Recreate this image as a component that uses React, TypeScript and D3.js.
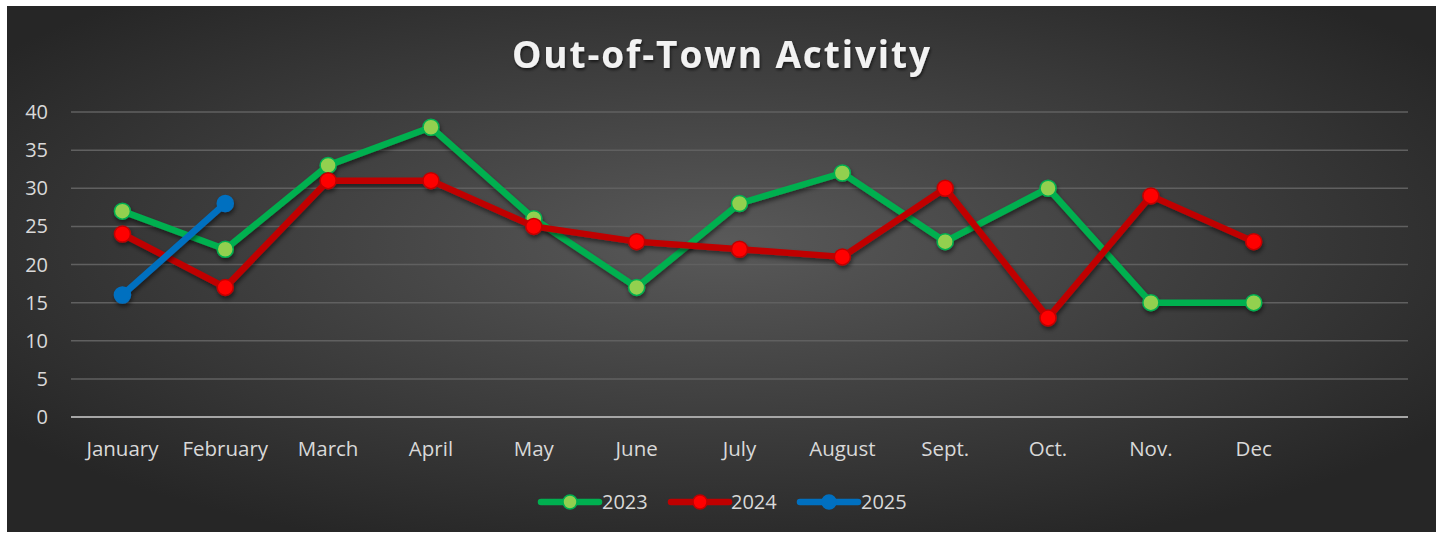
import React from "react";
import * as d3 from "d3";

const months = ["January", "February", "March", "April", "May", "June", "July", "August", "Sept.", "Oct.", "Nov.", "Dec", ""];
const s2023 = [27, 22, 33, 38, 26, 17, 28, 32, 23, 30, 15, 15];
const s2024 = [24, 17, 31, 31, 25, 23, 22, 21, 30, 13, 29, 23];
const s2025 = [16, 28];
const yTicks = [0, 5, 10, 15, 20, 25, 30, 35, 40];

const series = [
  { name: "2023", values: s2023, line: "#00b050", fill: "#92d050", stroke: "#00b050" },
  { name: "2024", values: s2024, line: "#c00000", fill: "#ff0000", stroke: "#c00000" },
  { name: "2025", values: s2025, line: "#0070c0", fill: "#0070c0", stroke: "#0070c0" },
];

export default function App() {
  const W = 1443, H = 538;
  const left = 71, right = 1408, top = 112, bottom = 417;
  const x = d3.scaleBand<string>().domain(months.map((m, i) => String(i))).range([left, right]);
  const xc = (i: number) => (x(String(i)) as number) + x.bandwidth() / 2;
  const y = d3.scaleLinear().domain([0, 40]).range([bottom, top]);
  const line = d3.line<number>().x((_, i) => xc(i)).y((d) => y(d));
  const font = "'Open Sans', sans-serif";
  const legendItems = [
    { x0: 541, tx: 602 },
    { x0: 671, tx: 731 },
    { x0: 800, tx: 861 },
  ];
  return (
    <svg width={W} height={H} style={{ position: "absolute", left: 0, top: 0 }}>
      <defs>
        <radialGradient id="bg" cx="50%" cy="45%" r="62%" gradientUnits="objectBoundingBox">
          <stop offset="0%" stopColor="#595959" />
          <stop offset="100%" stopColor="#262626" />
        </radialGradient>
        <filter id="sh" x="-10%" y="-10%" width="120%" height="130%">
          <feDropShadow dx="1" dy="3" stdDeviation="2" floodColor="#000" floodOpacity="0.5" />
        </filter>
        <filter id="tsh" x="-10%" y="-20%" width="120%" height="150%">
          <feDropShadow dx="1" dy="2" stdDeviation="1.5" floodColor="#000" floodOpacity="0.6" />
        </filter>
      </defs>
      <rect x={0} y={0} width={W} height={H} fill="#fff" />
      <rect x={7} y={6} width={1429} height={526} fill="url(#bg)" />
      <text x={512} y={68} fill="#f2f2f2" fontFamily={font} fontWeight="bold" fontSize={37} textLength={418} lengthAdjust="spacing" filter="url(#tsh)">
        Out-of-Town Activity
      </text>
      {yTicks.map((t) => (
        <g key={t}>
          {t > 0 && <line x1={left} x2={right} y1={y(t)} y2={y(t)} stroke="#606060" strokeWidth={1.5} />}
          <text x={48} y={y(t) + 7} textAnchor="end" fill="#d9d9d9" fontFamily={font} fontSize={20}>{t}</text>
        </g>
      ))}
      <line x1={left} x2={right} y1={bottom} y2={bottom} stroke="#a6a6a6" strokeWidth={2} />
      {months.map((m, i) => (
        <text key={i} x={xc(i)} y={456} textAnchor="middle" fill="#d9d9d9" fontFamily={font} fontSize={20.5}>{m}</text>
      ))}
      {series.map((s) => (
        <g key={s.name} filter="url(#sh)">
          <path d={line(s.values) || ""} fill="none" stroke={s.line} strokeWidth={6.5} strokeLinejoin="round" strokeLinecap="round" />
          {s.values.map((v, i) => (
            <circle key={i} cx={xc(i)} cy={y(v)} r={8} fill={s.fill} stroke={s.stroke} strokeWidth={1.5} />
          ))}
        </g>
      ))}
      {series.map((s, k) => (
        <g key={s.name}>
          <line x1={legendItems[k].x0} x2={legendItems[k].x0 + 58} y1={502} y2={502} stroke={s.line} strokeWidth={6.5} strokeLinecap="round" />
          <circle cx={legendItems[k].x0 + 29} cy={502} r={7} fill={s.fill} stroke={s.stroke} strokeWidth={1.5} />
          <text x={legendItems[k].tx} y={509} fill="#d9d9d9" fontFamily={font} fontSize={20}>{s.name}</text>
        </g>
      ))}
    </svg>
  );
}
